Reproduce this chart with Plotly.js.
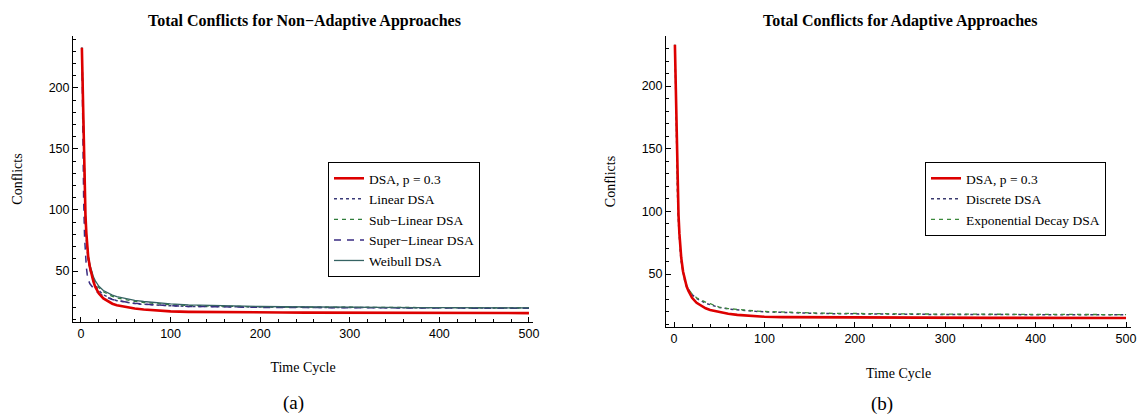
<!DOCTYPE html>
<html>
<head>
<meta charset="utf-8">
<script src="https://cdn.plot.ly/plotly-3.0.1.min.js"></script>
<style>html,body{margin:0;padding:0;background:#fff;}#chart{width:1142px;height:419px;}</style>
</head>
<body>
<div id="chart"></div>
<script>
// Time cycles (x values) shared by all series
const timeCycles = [1,2,3,4,5,6,7,8,10,12,14,16,18,20,25,30,35,40,50,60,70,80,90,100,120,140,160,180,200,225,250,275,300,325,350,375,400,425,450,475,500];

// (a) Non-adaptive approaches
const dsaA        = [233,196,152,118,96,81,70,62,53,46,41,37,34,31.5,27.5,25,23.2,22,20.3,19.2,18.4,17.8,17.3,16.9,16.5,16.3,16.2,16.1,16,16,15.9,15.9,15.8,15.8,15.7,15.7,15.6,15.6,15.6,15.5,15.5];
const linearA     = [233,188,142,110,89,75,66,59,51,45.5,41.5,38.5,36,34,30.5,28.3,26.8,25.7,24.2,23.3,22.7,22.2,21.8,21.5,21,20.8,20.6,20.5,20.4,20.3,20.2,20.1,20,20,19.9,19.8,19.8,19.7,19.7,19.6,19.6];
const subLinearA  = [233,192,148,115,93,79,69,62,54,48,44,41,38.5,36.5,33,30.8,29.2,28,26.3,25.1,24.2,23.5,22.9,22.4,21.7,21.3,21,20.8,20.6,20.5,20.4,20.3,20.2,20.1,20,20,19.9,19.9,19.8,19.8,19.7];
const superLinearA= [233,160,108,78,62,53,47,43,39.5,37.5,35.5,34,32.8,31.6,29.5,27.8,26.7,25.8,24.5,23.5,22.8,22.3,21.9,21.5,21,20.7,20.5,20.3,20.2,20.1,20,19.9,19.8,19.8,19.7,19.6,19.6,19.5,19.5,19.4,19.4];
const weibullA    = [233,194,150,117,95,80,70,63,55,49,45,42,39.5,37.5,34,31.8,30.2,29,27.3,26,25,24.2,23.6,23.1,22.3,21.8,21.4,21.1,20.9,20.7,20.5,20.4,20.3,20.2,20.1,20,20,19.9,19.9,19.8,19.8];

// (b) Adaptive approaches
const dsaB        = [233,192,150,118,97,82,71,63,52,45,40,36.5,33.5,31,27,24.5,22.6,21.3,19.5,18.3,17.4,16.8,16.3,15.9,15.6,15.5,15.4,15.3,15.3,15.2,15.2,15.1,15.1,15.1,15,15,15,14.9,14.9,14.9,14.9];
const discreteB   = [233,186,140,110,90,76,67,60,50,44,40,37.5,35.5,33.5,30.5,28.3,26.7,25.5,23.3,22.1,21.3,20.7,20.2,19.8,19.2,18.8,18.5,18.3,18.1,18,17.9,17.8,17.7,17.7,17.6,17.6,17.5,17.5,17.4,17.4,17.4];
const expDecayB   = [233,188,143,112,92,78,68,61,51,45,41,38,36,34,31,29,27.5,26.3,23.6,22.4,21.6,21,20.5,20.1,19.5,19.1,18.8,18.6,18.4,18.3,18.2,18.1,18,17.9,17.9,17.8,17.8,17.7,17.7,17.6,17.6];

const namesA = ['DSA, p = 0.3','Linear DSA','Sub\u2212Linear DSA','Super\u2212Linear DSA','Weibull DSA'];
const namesB = ['DSA, p = 0.3','Discrete DSA','Exponential Decay DSA'];
const titleA = 'Total Conflicts for Non\u2212Adaptive Approaches';
const titleB = 'Total Conflicts for Adaptive Approaches';

const W = 1142, H = 419;
const serif = 'Liberation Serif, Times New Roman, serif';
const narrow = 'Liberation Sans Narrow, Arial Narrow, Liberation Sans, Arial, sans-serif';

const traces = [
  {x: timeCycles, y: dsaA, name: namesA[0], legendrank:1, mode:'lines', line:{color:'#dd0000', width:2.6}, xaxis:'x', yaxis:'y', legend:'legend'},
  {x: timeCycles, y: linearA, name: namesA[1], legendrank:2, mode:'lines', line:{color:'#3a3a78', width:1.5, dash:'dot'}, xaxis:'x', yaxis:'y', legend:'legend'},
  {x: timeCycles, y: subLinearA, name: namesA[2], legendrank:3, mode:'lines', line:{color:'#2f7d3a', width:1.3, dash:'4px,4px'}, xaxis:'x', yaxis:'y', legend:'legend'},
  {x: timeCycles, y: superLinearA, name: namesA[3], legendrank:4, mode:'lines', line:{color:'#3a2d82', width:1.5, dash:'7px,6px'}, xaxis:'x', yaxis:'y', legend:'legend'},
  {x: timeCycles, y: weibullA, name: namesA[4], legendrank:5, mode:'lines', line:{color:'#356363', width:1.3}, xaxis:'x', yaxis:'y', legend:'legend'},
  {x: timeCycles, y: dsaB, name: namesB[0], legendrank:1, mode:'lines', line:{color:'#dd0000', width:2.6}, xaxis:'x2', yaxis:'y2', legend:'legend2'},
  {x: timeCycles, y: discreteB, name: namesB[1], legendrank:2, mode:'lines', line:{color:'#3a3a6e', width:1.5, dash:'dot'}, xaxis:'x2', yaxis:'y2', legend:'legend2'},
  {x: timeCycles, y: expDecayB, name: namesB[2], legendrank:3, mode:'lines', line:{color:'#3c8a3c', width:1.3, dash:'4px,4px'}, xaxis:'x2', yaxis:'y2', legend:'legend2'}
];
// draw red on top
const order = [1,2,3,4,0,6,7,5];
const data = order.map(i => traces[i]);

function axis(extra){
  return Object.assign({
    showline:true, linecolor:'#000', linewidth:1, mirror:false,
    ticks:'inside', ticklen:5, tickwidth:1, tickcolor:'#000',
    showgrid:false, zeroline:false, tickmode:'linear', tick0:0,
    tickfont:{family:narrow, size:12.5, color:'#000'},
    fixedrange:true
  }, extra);
}

const legendBase = {
  xanchor:'left', yanchor:'top', bordercolor:'#000', borderwidth:1, bgcolor:'#fff',
  font:{family:serif, size:13.5, color:'#000'}, tracegroupgap:0, itemwidth:30,
  traceorder:'normal'
};
const axTitleFont = {family:serif, size:14, color:'#000'};

const layout = {
  width:W, height:H, margin:{l:0,r:0,t:0,b:0},
  paper_bgcolor:'#fff', plot_bgcolor:'#fff', showlegend:true,
  font:{family:serif, color:'#000'},
  xaxis: axis({domain:[73/W,533/W], range:[-8.9,504.5], dtick:100, anchor:'y',
    minor:{ticks:'inside', ticklen:3, dtick:20, tick0:0, tickcolor:'#000', showgrid:false},
    title:{text:'Time Cycle', font:axTitleFont, standoff:22}}),
  yaxis: axis({domain:[1-322/H,1-36/H], range:[8.2,242.6], dtick:50, anchor:'x',
    minor:{ticks:'inside', ticklen:3, dtick:10, tick0:0, tickcolor:'#000', showgrid:false},
    title:{text:'Conflicts', font:axTitleFont, standoff:22}}),
  xaxis2: axis({domain:[666/W,1131/W], range:[-8.85,505.5], dtick:100, anchor:'y2',
    minor:{ticks:'inside', ticklen:3, dtick:20, tick0:0, tickcolor:'#000', showgrid:false},
    title:{text:'Time Cycle', font:axTitleFont, standoff:23}}),
  yaxis2: axis({domain:[1-327/H,1-36/H], range:[7.7,240], dtick:50, anchor:'x2',
    minor:{ticks:'inside', ticklen:3, dtick:10, tick0:0, tickcolor:'#000', showgrid:false},
    title:{text:'Conflicts', font:axTitleFont, standoff:22}}),
  legend: Object.assign({x:328/W, y:1-162/H}, legendBase),
  legend2: Object.assign({x:925/W, y:1-162/H}, legendBase),
  annotations:[
    {text:'<b>'+titleA+'</b>', xref:'paper', yref:'paper', x:304/W, y:1-21/H, xanchor:'center', yanchor:'middle', showarrow:false, font:{family:serif, size:16, color:'#000'}},
    {text:'<b>'+titleB+'</b>', xref:'paper', yref:'paper', x:900/W, y:1-21/H, xanchor:'center', yanchor:'middle', showarrow:false, font:{family:serif, size:16, color:'#000'}},
    {text:'(a)', xref:'paper', yref:'paper', x:293/W, y:1-403/H, xanchor:'center', yanchor:'middle', showarrow:false, font:{family:serif, size:19, color:'#000'}},
    {text:'(b)', xref:'paper', yref:'paper', x:882/W, y:1-404/H, xanchor:'center', yanchor:'middle', showarrow:false, font:{family:serif, size:19, color:'#000'}}
  ]
};

Plotly.newPlot('chart', data, layout, {displayModeBar:false, staticPlot:true});
</script>
</body>
</html>
